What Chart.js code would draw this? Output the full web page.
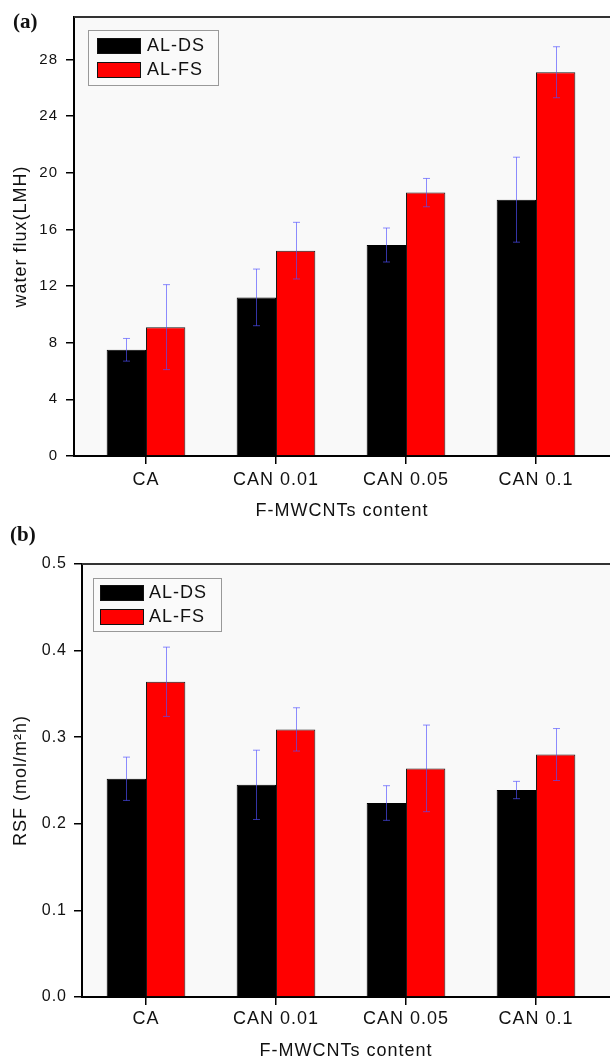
<!DOCTYPE html>
<html><head><meta charset="utf-8">
<script src="https://cdn.jsdelivr.net/npm/chart.js@4"></script>
<style>
html,body{margin:0;padding:0;background:#fff;}
#wrap{position:relative;width:610px;height:1062px;overflow:hidden;background:#fff;}
.pane{position:absolute;left:0;width:610px;}
</style></head><body>
<div id="wrap">
<div class="pane" style="top:0;height:525px"><canvas id="c1" width="610" height="525"></canvas></div>
<div class="pane" style="top:525px;height:537px"><canvas id="c2" width="610" height="537"></canvas></div>
</div>
<script>
// ---- data ----
const categories = ['CA', 'CAN 0.01', 'CAN 0.05', 'CAN 0.1'];
const seriesNames = ['AL-DS', 'AL-FS'];
const fluxDS = [7.5, 11.2, 14.9, 18.1];
const fluxDSErr = [0.8, 2.0, 1.2, 3.0];
const fluxFS = [9.1, 14.5, 18.6, 27.1];
const fluxFSErr = [3.0, 2.0, 1.0, 1.8];
const rsfDS = [0.252, 0.245, 0.224, 0.239];
const rsfDSErr = [0.025, 0.04, 0.02, 0.01];
const rsfFS = [0.364, 0.309, 0.264, 0.280];
const rsfFSErr = [0.04, 0.025, 0.05, 0.03];
const fluxTicks = [0, 4, 8, 12, 16, 20, 24, 28];
const rsfTicks = [0, 0.1, 0.2, 0.3, 0.4, 0.5];

const FONT = "'Liberation Sans', Arial, Helvetica, sans-serif";
const TXT = '#111';

const spacingPlugin = {
  id: 'spacing',
  beforeUpdate(c) { c.ctx.letterSpacing = '1px'; },
  beforeDraw(c) { c.ctx.letterSpacing = '1px'; }
};

const framePlugin = {
  id: 'frame',
  beforeDraw(c) {
    const a = c.chartArea, ctx = c.ctx;
    ctx.save();
    ctx.fillStyle = '#f9f9f9';
    ctx.fillRect(a.left, a.top, a.right - a.left, a.bottom - a.top);
    ctx.restore();
  },
  afterDraw(c, args, o) {
    const a = c.chartArea, ctx = c.ctx;
    ctx.save();
    ctx.strokeStyle = '#333';
    ctx.lineWidth = 2;
    ctx.beginPath();
    ctx.moveTo(a.left, a.top);
    ctx.lineTo(c.width, a.top);
    ctx.stroke();
    // panel label
    ctx.letterSpacing = '0px';
    ctx.fillStyle = '#111';
    ctx.font = "bold " + o.labelSize + "px 'Liberation Serif', 'Times New Roman', serif";
    ctx.textBaseline = 'alphabetic';
    ctx.textAlign = 'left';
    ctx.fillText(o.label, o.labelX, o.labelY);
    ctx.restore();
  }
};

const errPlugin = {
  id: 'errbars',
  afterDatasetsDraw(c) {
    const ctx = c.ctx, ys = c.scales.y;
    ctx.save();
    ctx.strokeStyle = 'rgba(80,80,255,0.65)';
    ctx.lineWidth = 1;
    c.data.datasets.forEach((ds, d) => {
      const meta = c.getDatasetMeta(d);
      meta.data.forEach((bar, i) => {
        const v = ds.data[i].y, e = ds.errors[i];
        const x = Math.round(bar.x) + 0.5;
        const y1 = ys.getPixelForValue(v + e), y2 = ys.getPixelForValue(v - e);
        ctx.beginPath();
        ctx.moveTo(x, y1); ctx.lineTo(x, y2);
        ctx.moveTo(x - 3.5, y1); ctx.lineTo(x + 3.5, y1);
        ctx.moveTo(x - 3.5, y2); ctx.lineTo(x + 3.5, y2);
        ctx.stroke();
      });
    });
    ctx.restore();
  }
};

const legendPlugin = {
  id: 'boxlegend',
  afterDraw(c, args, o) {
    const ctx = c.ctx, a = c.chartArea;
    const bx = a.left + o.dx, by = a.top + o.dy;
    ctx.save();
    ctx.fillStyle = '#fafafa';
    ctx.fillRect(bx, by, o.w, o.h);
    ctx.strokeStyle = '#999';
    ctx.lineWidth = 1;
    ctx.strokeRect(bx + 0.5, by + 0.5, o.w, o.h);
    ctx.font = '18px ' + FONT;
    ctx.textBaseline = 'middle';
    ctx.textAlign = 'left';
    c.data.datasets.forEach((ds, i) => {
      const sy = by + o.sy + i * o.row;
      ctx.fillStyle = ds.backgroundColor;
      ctx.fillRect(bx + o.sx, sy, 44, 16);
      ctx.strokeStyle = '#111';
      ctx.strokeRect(bx + o.sx + 0.5, sy + 0.5, 43, 15);
      ctx.fillStyle = TXT;
      ctx.fillText(ds.label, bx + o.tx, sy + 8.5);
    });
    ctx.restore();
  }
};

function makeDatasets(ds, dsErr, fs, fsErr) {
  return [
    { label: seriesNames[0], data: categories.map((c, i) => ({ x: i, y: ds[i] })), errors: dsErr,
      backgroundColor: '#000000', borderColor: '#000000', borderWidth: 1,
      categoryPercentage: 0.605, barPercentage: 1.0 },
    { label: seriesNames[1], data: categories.map((c, i) => ({ x: i, y: fs[i] })), errors: fsErr,
      backgroundColor: '#ff0000', borderColor: '#1a1a1a', borderWidth: 1,
      categoryPercentage: 0.605, barPercentage: 1.0 }
  ];
}

function makeChart(id, p) {
  return new Chart(document.getElementById(id), {
    type: 'bar',
    data: { datasets: makeDatasets(p.ds, p.dsErr, p.fs, p.fsErr) },
    plugins: [spacingPlugin, framePlugin, errPlugin, legendPlugin],
    options: {
      responsive: false, animation: false, devicePixelRatio: 1,
      layout: { padding: { top: p.top, left: 0, right: 0, bottom: 0 } },
      plugins: {
        legend: { display: false }, tooltip: { enabled: false },
        frame: { label: p.label, labelX: p.labelX, labelY: p.labelY, labelSize: p.labelSize },
        boxlegend: p.legend
      },
      scales: {
        x: {
          type: 'linear', min: p.xmin, max: p.xmax, offset: false,
          afterBuildTicks: s => { s.ticks = categories.map((c, i) => ({ value: i })); },
          afterFit: s => { s.height = p.xh; },
          ticks: { callback: v => categories[v] ?? '', font: { family: FONT, size: 18 }, color: TXT,
                   padding: p.xpad, maxRotation: 0, autoSkip: false },
          grid: { display: true, offset: false, drawOnChartArea: false, drawTicks: true, tickLength: 8, color: '#000', lineWidth: 1.5 },
          border: { display: true, color: '#000', width: 2 },
          title: { display: true, text: 'F-MWCNTs content', font: { family: FONT, size: 18 }, color: TXT,
                   padding: { top: 0, bottom: p.xtpad } }
        },
        y: {
          type: 'linear', min: 0, max: p.ymax,
          afterBuildTicks: s => { s.ticks = p.yticks.map(v => ({ value: v })); },
          afterFit: s => { s.width = p.yw; },
          ticks: { callback: p.fmt, font: { family: FONT, size: p.ytsize }, color: TXT, padding: p.ypad },
          grid: { display: true, drawOnChartArea: false, drawTicks: true, tickLength: 8, color: '#000', lineWidth: 1.5 },
          border: { display: true, color: '#000', width: 2 },
          title: { display: true, text: p.ytitle, font: { family: FONT, size: 18 }, color: TXT,
                   padding: { top: 10, bottom: 0 } }
        }
      }
    }
  });
}

makeChart('c1', {
  ds: fluxDS, dsErr: fluxDSErr, fs: fluxFS, fsErr: fluxFSErr,
  top: 16, yw: 74, xh: 69, xmin: -0.5538, xmax: 3.5692, ymax: 31, yticks: fluxTicks,
  fmt: v => String(v), ytsize: 15, ypad: 8, xpad: 5, xtpad: 3,
  ytitle: 'water flux(LMH)',
  label: '(a)', labelX: 13, labelY: 28, labelSize: 21,
  legend: { dx: 14, dy: 13, w: 130, h: 55, sx: 9, sy: 8, row: 24, tx: 59 }
});

makeChart('c2', {
  ds: rsfDS, dsErr: rsfDSErr, fs: rsfFS, fsErr: rsfFSErr,
  top: 39, yw: 82, xh: 65, xmin: -0.4923, xmax: 3.5692, ymax: 0.5, yticks: rsfTicks,
  fmt: v => Number(v).toFixed(1), ytsize: 16, ypad: 7, xpad: 3, xtpad: 0,
  ytitle: 'RSF (mol/m²h)',
  label: '(b)', labelX: 10, labelY: 16, labelSize: 21,
  legend: { dx: 11, dy: 14, w: 128, h: 53, sx: 7, sy: 7, row: 24, tx: 56 }
});
</script>
</body></html>
